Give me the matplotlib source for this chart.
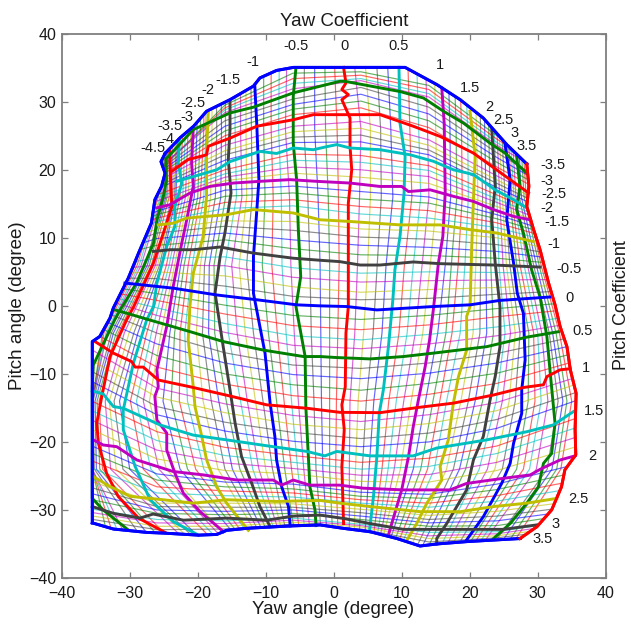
import numpy as np
import matplotlib
matplotlib.use("Agg")
import matplotlib.pyplot as plt
from matplotlib.patches import Polygon

plt.rcParams['font.family'] = ['Liberation Sans', 'DejaVu Sans']

W, H = 631, 624
TEXT = '#1a1a1a'
EDGE = '#7f7f7f'
COLORS = ['#0000ff', '#007f00', '#ff0000', '#00bfbf', '#bf00bf', '#bfbf00', '#404040']

# ==========================================
# Thick curves: (yaw, pitch)
# ==========================================
yaw_m45 = [(-24.8, 22.4), (-25.4, 21.2), (-24.8, 19.5), (-25.3, 17.6), (-26.3, 15.6), (-26.8, 12.2), (-28.7, 7.75),
           (-30.2, 4.1), (-32.4, -0.3), (-32.9, -1.8), (-34.4, -4.5), (-35.5, -5.25), (-35.5, -31.9)]
yaw_m40 = [(-24.7, 21.7), (-24.6, 18.5), (-25.05, 16.1), (-26, 12.65), (-26.5, 9.2), (-29, 3.35), (-31.4, -0.6),
           (-32.2, -2.05), (-35.35, -8.7), (-35.5, -12), (-35.5, -28.3), (-33.9, -30), (-30.2, -32.95)]
yaw_m35 = [(-24.1, 22.7), (-24, 19), (-23.8, 14.6), (-25.05, 10.7), (-26.5, 6.3), (-29.4, -0.1), (-30.45, -2.05),
           (-32.9, -7.45), (-34.1, -13.3), (-34.85, -17.25), (-34.6, -20.2), (-33.4, -24.6), (-31.7, -28),
           (-28.7, -31.2), (-24.8, -33.3)]
yaw_m30 = [(-22.7, 24.4), (-22.85, 21), (-22.35, 18), (-23.35, 14.6), (-23.35, 11.7), (-24.55, 8.75), (-26, 3.35),
           (-26.5, -0.1), (-27.5, -2.05), (-29.45, -8.4), (-30.95, -15.3), (-30.95, -18.2), (-29.2, -23.6),
           (-27, -28.5), (-23.6, -31.7), (-19.9, -33.7)]
yaw_m25 = [(-20.65, 26.1), (-20.9, 21), (-20.65, 17.6), (-21.6, 12.7), (-22.35, 9.2), (-23.6, 2.85), (-24.55, -3),
           (-26, -9.4), (-25.8, -11.9), (-26.3, -13.3), (-26, -16.8), (-24.55, -18.7), (-24.55, -21.2), (-23.35, -24.6),
           (-22.1, -27.55), (-19.65, -30.25), (-16.2, -33.2)]
yaw_m20 = [(-18.45, 28.35), (-18.7, 22.5), (-18.7, 16.1), (-19.2, 10.2), (-20.65, 4.8), (-21.15, -0.1), (-21.4, -5),
           (-20.65, -11.9), (-20.4, -14.8), (-19.4, -19.2), (-18.7, -22.6), (-17.2, -26.6), (-15.75, -29), (-12.55, -33)]
yaw_m15 = [(-15.25, 30.05), (-15.25, 25.9), (-15.5, 21.5), (-15.1, 16.6), (-16, 10.7), (-16.7, 7.25), (-17.45, 1.9),
           (-16.25, -6), (-15.25, -12.35), (-14.5, -17.25), (-13.55, -22.15), (-12.05, -26.1), (-10.85, -29.5),
           (-9.35, -32.45)]
yaw_m10 = [(-11.6, 32.3), (-11.3, 26.4), (-11, 18.55), (-11.3, 14.15), (-11.8, 7.25), (-11.8, 1.85), (-10.1, -6.95),
           (-9.35, -14.3), (-8.65, -19.2), (-8.4, -22.65), (-7.65, -26.6), (-6.65, -29.5), (-6.4, -32.35)]
yaw_m05 = [(-5.55, 35), (-5.95, 30.8), (-5.95, 23.9), (-5.45, 18.5), (-5.2, 11.2), (-4.85, 4.3), (-5.55, -0.1),
           (-4.2, -7.45), (-4.1, -14.8), (-3.75, -21.7), (-3.5, -26.6), (-2.75, -30), (-2.6, -32.3)]
yaw_00 = [(1.45, 35.05), (1.8, 32.75), (1.2, 31.8), (2.15, 31.05), (1.2, 30.3), (2.4, 27.6), (2.4, 23.45), (2.65, 20),
          (2.15, 15.1), (2.15, 7.25), (2.15, -0.1), (1.8, -4), (1.7, -11.9), (1.2, -14.55), (1.55, -18.2),
          (1.2, -23.6), (1.45, -32)]
yaw_05 = [(9.6, 35.05), (9.75, 26.85), (10.5, 21.95), (10.35, 16.6), (9.75, 10.2), (9, 5.3), (8.7, 0.9), (8.05, -6),
          (7.3, -12.35), (6.7, -15.8), (6.35, -22.15), (5.85, -28), (5.25, -33.2)]
yaw_10 = [(15.9, 32), (16.25, 26.85), (16.4, 16.6), (16.05, 10.2), (15.4, 6.3), (14.65, -0.6), (14.1, -5),
          (13.45, -8.95), (12.45, -13.85), (11.7, -17.75), (11, -22.15), (10, -27.05), (8.55, -31.95), (8.05, -33.7)]
yaw_15 = [(20.05, 28.6), (20.8, 22), (20.55, 15.6), (20.3, 8.75), (20.05, -0.1), (19.55, -1.55), (19.55, -6.5),
          (18.35, -10.4), (17.6, -14.3), (16.85, -19.7), (15.65, -23.6), (15.9, -25.6), (13.7, -29), (12.2, -32),
          (10.85, -34.3)]
yaw_20 = [(23.25, 25.9), (23.75, 17.6), (23.25, 12.65), (23.75, 6.3), (24.45, -0.1), (24.45, -6), (23.75, -10.4),
          (23, -13.8), (22, -19.2), (20.55, -22.65), (19.55, -27.05), (16.65, -31.95), (15.15, -34.2), (15.15, -35)]
yaw_25 = [(25.2, 23.7), (25.95, 18.55), (25.45, 12.65), (26.45, 6.3), (27, 1.85), (27.9, -1.1), (28.15, -7.95),
          (27.65, -12.35), (27.65, -15.8), (26.45, -20.2), (25.95, -23.15), (24.7, -26.1), (22, -31), (19.55, -34.4)]
yaw_30 = [(26.9, 22), (27.4, 17.6), (26.9, 14.15), (27.9, 10.7), (29.1, 5.3), (30.35, 1.3), (31.35, -4.5), (31.8, -9.4),
          (32.55, -17.25), (32.05, -21.7), (30.85, -23.15), (30.1, -26.6), (28.4, -29), (25.95, -32), (23.5, -34.2)]
yaw_35 = [(28.4, 20.85), (28.7, 17.6), (28.4, 14.6), (29.4, 11.2), (30.35, 8.25), (31.6, 3.35), (32.55, 0.15),
          (33.3, -3.05), (34.3, -6), (34.8, -9.4), (35.65, -12.85), (35.5, -18.2), (35.6, -21.9), (34, -24.1),
          (33.5, -26.6), (32.05, -30), (29.9, -32.45), (27.4, -34.2)]

pitch_m35 = [(-24.8, 22.4), (-22.6, 24.7), (-20.6, 26.4), (-18.7, 28.6), (-15.25, 30.3), (-11.8, 32.3), (-10.85, 33.5),
             (-8.4, 34.6), (-5.9, 35.05), (10.5, 35.05), (15.2, 32.5), (18.6, 30.3), (22, 27.6), (23.5, 25.9),
             (25.45, 23.7), (28.4, 20.85)]
pitch_m30 = [(-24.55, 21.7), (-20.65, 25.9), (-15.25, 28.35), (-11.8, 29.2), (-5.95, 31.3), (0.9, 33), (1.65, 33),
             (9.75, 31.5), (13.2, 30.55), (16.15, 28.6), (19.1, 26.85), (23, 23.9), (25.2, 22.45), (28.4, 19.5)]
pitch_m25 = [(-23.85, 19.75), (-21.4, 21.5), (-18.7, 22.2), (-18.45, 23.45), (-15.25, 24.65), (-11.3, 26.4),
             (-5.95, 27.35), (-3, 28.1), (0.9, 28.1), (6.8, 28.1), (11.7, 26.4), (15.65, 24.9), (20.55, 22.45),
             (23.25, 20.5), (25.95, 18.55), (28.65, 16.6)]
pitch_m20 = [(-23.1, 18.3), (-20.65, 19), (-17.2, 20), (-15.25, 21.2), (-10.85, 22.7), (-8.4, 22.4), (-5.95, 23.2),
             (-3, 22.95), (-1, 23.4), (0.45, 23.7), (2.4, 23.2), (6.8, 22.95), (11.25, 22.2), (14.65, 21.25),
             (17.6, 20), (20.55, 19.3), (23.75, 17.05), (26.45, 15.6), (28.4, 14.4)]
pitch_m15 = [(-26.05, 14.4), (-24.1, 14.85), (-21.1, 16.6), (-18.2, 17.55), (-14.75, 18.05), (-10.85, 18.3),
             (-6.45, 18.55), (-2.5, 18.3), (2.4, 18.05), (6.8, 17.55), (10, 17.55), (11, 16.8), (14.2, 17.05),
             (17.6, 16.1), (20.55, 15.35), (23.5, 14.15), (26.45, 13.15), (28.9, 12.65)]
pitch_m10 = [(-25.8, 11.9), (-23.6, 12.15), (-21.6, 12.9), (-15.75, 13.4), (-11.8, 14.15), (-5.95, 13.65), (-2, 12.65),
             (2.4, 12.4), (9.75, 11.9), (15.65, 11.9), (20.05, 11.2), (24, 10.7), (29.35, 9.45)]
pitch_m05 = [(-26.5, 8), (-24.05, 8.25), (-20.65, 8.25), (-16.7, 8.65), (-11.8, 7.75), (-5.95, 7), (-2, 6.7), (0.9, 6.5),
             (3.9, 6), (6.8, 6), (11.7, 6.45), (15.65, 6.2), (23.5, 6), (30.35, 5.7)]
pitch_00 = [(-30.7, 3.35), (-23.6, 2.6), (-17.2, 1.6), (-11.35, 0.9), (-5.45, 0.15), (-2, 0), (1.9, -0.1), (6.35, -0.6),
            (14.65, -0.1), (20.05, 0.15), (24.45, 0.8), (31.8, 1.3)]
pitch_05 = [(-32.15, -0.6), (-29.7, -1.3), (-27.5, -1.95), (-24.55, -2.8), (-21.1, -3.8), (-16.25, -5.25), (-10.35, -6.5),
            (-4.45, -7.45), (-2, -7.45), (0.45, -7.6), (5.35, -7.8), (10.25, -7.45), (14.65, -6.95), (22.5, -6),
            (28.4, -4.6), (33.05, -3.8)]
pitch_10 = [(-35.1, -5.25), (-32.4, -6.95), (-29.7, -8.2), (-29.2, -9), (-28, -9), (-25.8, -10.9), (-21.1, -11.9),
            (-15.25, -13.25), (-9.85, -14.55), (-3.95, -15.05), (0.9, -15.65), (6.8, -15.7), (12.7, -14.9), (17.6, -14.3),
            (23.5, -13.1), (27.9, -12), (30.85, -11.6), (31.35, -10.4), (33.3, -9.4), (34.75, -9.25)]
pitch_15 = [(-35.5, -12.5), (-33.9, -12.95), (-32.4, -14.8), (-30.95, -15.05), (-25.55, -17.5), (-20.65, -19),
            (-15.75, -19.7), (-8.9, -20.7), (-3.95, -21.4), (-1.3, -22.05), (0.45, -21.4), (5.35, -22.05), (11.7, -22.05),
            (15.15, -20.9), (22.5, -19.7), (28.4, -18.5), (32.3, -17.5), (35.25, -15.55)]
pitch_20 = [(-35.35, -19.7), (-33.9, -20.45), (-31.9, -20.7), (-28.95, -22.65), (-23.6, -24.35), (-19.15, -24.85),
            (-14.25, -25.6), (-8.9, -25.6), (-7.65, -26.35), (-5.95, -25.6), (-3.5, -26.35), (0.9, -26.35), (4.35, -26.8),
            (10.25, -27.05), (17.1, -27.05), (19.55, -26.1), (24.95, -25.35), (28.9, -24.85), (30.6, -23.9),
            (33.3, -22.65), (35.5, -22.05)]
pitch_25 = [(-35.35, -25.1), (-32.9, -26.55), (-29.95, -28), (-25.05, -28.5), (-20.65, -29), (-15.75, -28.5),
            (-8.4, -28.75), (-2, -28.6), (0.9, -29), (5.35, -29.5), (12.7, -30.25), (18.6, -30.25), (23.5, -29.5),
            (28.4, -29), (32.8, -28.3)]
pitch_30 = [(-35.5, -29.5), (-32.4, -30.5), (-28.5, -31.2), (-26.55, -30.6), (-22.1, -31.5), (-15.75, -31.2),
            (-9.85, -31.5), (-5.95, -30.9), (-2, -30.75), (1.45, -31.25), (5.35, -32), (10.25, -32.85), (17.6, -32.85),
            (24.95, -32.85), (29.85, -32.2)]
pitch_35 = [(-35.5, -31.9), (-32.4, -32.8), (-27.5, -33.3), (-25.05, -33.4), (-19.9, -33.7), (-17.2, -33.6), (-15.75, -33),
            (-12.8, -32.7), (-6.4, -32.35), (-2, -32.2), (1.4, -32.7), (5.35, -33.2), (9.3, -34.2), (12.7, -35.3),
            (15.15, -35), (19.6, -34.65), (27.4, -34.2)]

yaw_thick = [yaw_m45, yaw_m40, yaw_m35, yaw_m30, yaw_m25, yaw_m20, yaw_m15, yaw_m10, yaw_m05,
             yaw_00, yaw_05, yaw_10, yaw_15, yaw_20, yaw_25, yaw_30, yaw_35]
pitch_thick = [pitch_m35, pitch_m30, pitch_m25, pitch_m20, pitch_m15, pitch_m10, pitch_m05, pitch_00,
               pitch_05, pitch_10, pitch_15, pitch_20, pitch_25, pitch_30, pitch_35]

# ==========================================
# Thin curves: yaw angle at each pitch station, pitch angle at each yaw station
# Four thin lines per gap between two thick ones
# ==========================================
yaw_thin_pitch = [36, 26, 16, 6, -4, -14, -24, -35]
yaw_thin = [
    [-24.4, -24.9, -26, -29.2, -34, -35.5, -35.5, -33], [-24.3, -24.8, -25.8, -28.9, -33.8, -35.5, -35.5, -32],
    [-24.2, -24.7, -25.5, -28.6, -33.5, -35.5, -35.5, -31], [-24.1, -24.6, -25.3, -28.3, -33.3, -35.5, -35.5, -30],
    [-24, -24.5, -24.9, -27.7, -32.7, -35.4, -35.2, -27.6], [-24, -24.4, -24.7, -27.4, -32.4, -35.1, -34.9, -26.2],
    [-24, -24.3, -24.5, -27.1, -32, -34.8, -34.4, -24.8], [-24, -24.1, -24.2, -26.8, -31.7, -34.5, -34, -23.4],
    [-23.7, -23.7, -23.8, -26.2, -30.8, -33.6, -32.8, -21.2], [-23.4, -23.4, -23.6, -25.9, -30.1, -33, -32, -20.4],
    [-23.1, -23.1, -23.4, -25.6, -29.4, -32.3, -31, -19.6], [-22.8, -22.9, -23.2, -25.3, -28.8, -31.5, -30, -18.8],
    [-22.1, -22.2, -22.6, -24.6, -27.5, -29.9, -28, -17.2], [-21.7, -21.8, -22.2, -24.2, -26.8, -29, -26.9, -16.4],
    [-21.3, -21.4, -21.8, -23.8, -26.1, -28, -25.7, -15.6], [-21, -21, -21.4, -23.4, -25.4, -27.1, -24.6, -14.8],
    [-20.1, -20.1, -20.5, -22.5, -24.1, -25.1, -22.6, -13.4], [-19.6, -19.6, -20, -22, -23.4, -23.9, -21.5, -12.8],
    [-19.1, -19.1, -19.6, -21.4, -22.6, -22.7, -20.3, -12.2], [-18.8, -18.8, -19.1, -20.8, -21.9, -21.5, -19.1, -11.6],
    [-17.9, -17.9, -18.1, -19.6, -20.2, -19.2, -17, -10.5], [-17.3, -17.2, -17.4, -19, -19.3, -18, -16, -10],
    [-16.6, -16.5, -16.6, -18.3, -18.4, -16.9, -14.9, -9.5], [-16, -15.9, -15.9, -17.6, -17.5, -15.8, -13.8, -9],
    [-14.5, -14.5, -14.3, -16, -15.5, -13.7, -11.9, -8], [-13.7, -13.7, -13.5, -15, -14.2, -12.7, -11, -7.5],
    [-12.9, -12.9, -12.8, -13.9, -13, -11.5, -10, -7.1], [-12.2, -12.1, -12, -12.8, -11.8, -10.4, -9, -6.6],
    [-10.3, -10.3, -10.1, -10.5, -9.6, -8.4, -7.2, -5.5], [-9.2, -9.2, -8.9, -9.1, -8.3, -7.3, -6.2, -4.8],
    [-8, -8.1, -7.7, -7.6, -7, -6.2, -5.3, -4], [-6.9, -7.1, -6.5, -6.3, -5.8, -5.2, -4.4, -3.3],
    [-4.3, -4.4, -3.8, -3.5, -3.3, -2.9, -2.6, -1.7], [-2.8, -2.8, -2.3, -2, -1.9, -1.8, -1.6, -0.9],
    [-1.3, -1.2, -0.8, -0.6, -0.6, -0.6, -0.6, -0.1], [0.1, 0.5, 0.7, 0.8, 0.6, 0.4, 0.3, 0.7],
    [3, 4, 3.8, 3.5, 3.1, 2.4, 2.3, 2.3], [4.6, 5.4, 5.4, 5, 4.4, 3.6, 3.2, 3],
    [6.3, 6.9, 7, 6.4, 5.8, 4.8, 4.2, 3.7], [7.9, 8.4, 8.7, 7.7, 7.1, 5.9, 5.2, 4.5],
    [10.9, 11.2, 11.5, 10.4, 9.6, 8.1, 7.1, 5.7], [12.2, 12.5, 12.8, 11.7, 10.8, 9.2, 8, 6.2],
    [13.5, 13.8, 14, 13, 12, 10.3, 8.9, 6.6], [14.8, 15, 15.2, 14.2, 13.1, 11.4, 9.8, 7],
    [16.8, 17.1, 17.2, 16.4, 15.3, 13.5, 11.7, 8.1], [17.7, 18, 18.1, 17.3, 16.5, 14.6, 12.8, 8.8],
    [18.5, 18.8, 18.9, 18.3, 17.4, 15.6, 13.8, 9.4], [19.3, 19.7, 19.8, 19.3, 18.6, 16.6, 14.8, 10],
    [20.7, 21, 21.2, 20.9, 20.5, 18.7, 16.6, 11.5], [21.4, 21.6, 21.9, 21.6, 21.5, 19.8, 17.6, 12.4],
    [22, 22.2, 22.4, 22.4, 22.5, 20.8, 18.5, 13.2], [22.6, 22.8, 23, 23.1, 23.5, 21.9, 19.4, 14.1],
    [23.6, 23.6, 24, 24.3, 25.2, 23.9, 21.4, 15.9], [24, 24, 24.4, 24.9, 26, 24.8, 22.6, 16.7],
    [24.3, 24.3, 24.8, 25.4, 26.7, 25.8, 23.7, 17.5], [24.7, 24.7, 25.2, 25.9, 27.4, 26.7, 24.8, 18.4],
    [25.3, 25.3, 25.9, 26.9, 28.7, 28.6, 26.9, 19.9], [25.6, 25.6, 26.2, 27.4, 29.4, 29.6, 27.9, 20.6],
    [25.9, 25.9, 26.5, 28, 30, 30.5, 28.8, 21.3], [26.2, 26.2, 26.8, 28.5, 30.6, 31.5, 29.8, 21.9],
    [26.8, 26.8, 27.3, 29.4, 31.7, 33, 31.4, 23.5], [27.1, 27.1, 27.6, 29.8, 32.2, 33.7, 32.1, 24.5],
    [27.4, 27.4, 28, 30.2, 32.7, 34.3, 32.8, 25.5], [27.7, 27.7, 28.3, 30.5, 33.2, 35, 33.4, 26.3],
]

pitch_thin_yaw = [-36, -26, -16, -6, 4, 14, 24, 36]
pitch_thin = [
    [17, 19.5, 29.5, 34.2, 34.4, 32.4, 25, 17.6], [16, 19.7, 29.1, 33.4, 33.9, 31.8, 24.5, 17.2],
    [15, 19.8, 28.8, 32.7, 33.4, 31.2, 24, 16.8], [14.5, 20, 28.4, 31.9, 33.1, 30.7, 23.6, 16.4],
    [13.8, 19.7, 27.2, 30.4, 32.1, 29.2, 22.5, 15.4], [13.6, 19.4, 26.4, 29.6, 31.1, 28.2, 21.8, 14.9],
    [13.4, 19.1, 25.7, 28.9, 30.1, 27.2, 21.1, 14.4], [13.2, 18.8, 25, 28.1, 29.1, 26.2, 20.4, 13.9],
    [12.8, 18.2, 23.6, 26.4, 27.1, 24.4, 19.1, 13], [12.6, 17.9, 22.8, 25.6, 26.1, 23.6, 18.5, 12.6],
    [12.4, 17.5, 22.2, 24.8, 25.1, 22.9, 18, 12.2], [12.2, 17.2, 21.4, 24, 24.1, 22.2, 17.4, 11.8],
    [11.6, 16.3, 20, 22.3, 22.1, 20.6, 16.3, 11.1], [11.2, 15.9, 19.4, 21.4, 21.1, 19.9, 15.7, 10.8],
    [10.8, 15.4, 18.9, 20.4, 20, 19, 15.2, 10.5], [10.4, 14.9, 18.4, 19.5, 18.9, 18, 14.6, 10.2],
    [9.6, 13.9, 17, 17.6, 16.8, 16, 13.4, 9.6], [9.2, 13.4, 16.1, 16.6, 15.7, 15.1, 12.8, 9.2],
    [8.8, 12.9, 15.2, 15.6, 14.6, 14, 12.2, 8.8], [8.4, 12.4, 14.3, 14.7, 13.5, 12.9, 11.5, 8.4],
    [7.6, 11.3, 12.5, 12.4, 11.3, 11, 10, 7.5], [7.2, 10.7, 11.7, 11.1, 10.1, 9.8, 9, 7],
    [6.8, 9.9, 10.7, 9.7, 8.9, 8.6, 8, 6.5], [6.4, 8.9, 9.7, 8.4, 7.5, 7.4, 7, 5.9],
    [5.5, 7, 7.2, 5.6, 4.8, 5, 4.9, 4.7], [5, 6, 5.9, 4.2, 3.5, 3.7, 3.8, 3.9],
    [4.6, 5, 4.4, 2.8, 2, 2.4, 2.7, 3.1], [4.2, 4, 2.9, 1.4, 0.9, 1.1, 1.7, 2.3],
    [3.2, 1.8, 0.1, -1.4, -2, -1.4, -0.4, 0.6], [2.6, 0.8, -1.2, -2.9, -3.5, -2.8, -1.6, -0.4],
    [2.1, -0.3, -2.6, -4.4, -5, -4.2, -3.1, -1.4], [1.6, -1.4, -3.9, -5.8, -6.3, -5.6, -4.4, -2.4],
    [0, -4, -6.9, -8.7, -9.2, -8.4, -7, -4.4], [-1.2, -5.6, -8.4, -10.1, -10.7, -9.9, -8.4, -5.6],
    [-2.4, -7.3, -10, -11.6, -12.4, -11.4, -9.9, -6.8], [-3.6, -9, -11.5, -13.2, -14, -13, -11.4, -8],
    [-6.2, -12.1, -14.4, -16.1, -17, -16, -14.2, -10.4], [-7.8, -13.4, -15.7, -17.4, -18.2, -17.3, -15.4, -11.4],
    [-9.4, -14.8, -17.1, -18.6, -19.5, -18.7, -16.7, -12.6], [-10.9, -16, -18.4, -19.9, -20.7, -20, -18, -13.8],
    [-13.8, -18.5, -20.8, -22, -23, -22.4, -20.6, -16.4], [-15.2, -19.8, -22, -23, -24, -23.6, -21.7, -17.8],
    [-16.6, -21.2, -23.1, -23.9, -24.9, -24.8, -23, -19.2], [-18, -22.5, -24.2, -24.7, -25.8, -25.9, -24.2, -20.6],
    [-20.4, -24.7, -25.9, -26.2, -27.4, -27.7, -26.2, -23.2], [-21.5, -25.6, -26.6, -26.9, -28, -28.3, -27, -24.4],
    [-22.6, -26.6, -27.2, -27.5, -28.5, -29, -27.9, -25.6], [-23.7, -27.5, -27.9, -28.1, -29, -29.6, -28.7, -26.7],
    [-25.7, -29, -29, -29.1, -29.9, -30.8, -30.2, -28.6], [-26.6, -29.5, -29.6, -29.6, -30.4, -31.4, -30.9, -29.4],
    [-27.5, -30, -30.2, -30, -30.9, -31.9, -31.6, -30], [-28.4, -30.5, -30.7, -30.5, -31.4, -32.4, -32.3, -30.5],
    [-29.8, -31.4, -31.6, -31.2, -32.1, -33.3, -33.2, -31.4], [-30.3, -31.9, -32, -31.5, -32.3, -33.8, -33.5, -31.8],
    [-30.8, -32.4, -32.4, -31.8, -32.5, -34.2, -33.8, -32.2], [-31.3, -32.9, -32.8, -32.1, -32.8, -34.7, -34.1, -32.6],
]

# Curve labels and tick labels
yaw_labels = ['-4.5', '-4', '-3.5', '-3', '-2.5', '-2', '-1.5', '-1', '-0.5', '0', '0.5', '1', '1.5', '2', '2.5', '3', '3.5']
pitch_labels = ['-3.5', '-3', '-2.5', '-2', '-1.5', '-1', '-0.5', '0', '0.5', '1', '1.5', '2', '2.5', '3', '3.5']
tick_values = [-40, -30, -20, -10, 0, 10, 20, 30, 40]

yaw_label_px = [(153, 148), (168, 139), (170, 126), (187, 117), (193, 103), (208, 90), (228, 80), (253, 62), (296, 46),
                (344, 46), (399, 46), (440, 65), (470, 88), (489, 107), (503, 120), (515, 133), (527, 146)]
pitch_label_px = [(553, 165), (547, 181), (554, 194), (547, 208), (557, 222), (554, 244), (569, 269), (569, 298),
                  (583, 331), (586, 368), (594, 411), (592, 456), (578, 499), (556, 524), (543, 539)]


def thin_color(i):
    return COLORS[i % 7]


fig = plt.figure(figsize=(W / 100, H / 100), dpi=100)
ax = fig.add_axes([61.7 / W, 1 - 578 / H, 544 / W, 544.3 / H])

# Outline of the mesh, the thin lines are cut off at it
outline = pitch_m35 + yaw_35[1:] + pitch_35[::-1][1:] + yaw_m45[::-1][1:]
clip = Polygon(outline, closed=True, transform=ax.transData, fc='none', ec='none')
ax.add_patch(clip)

thin_index = [i for i in range(1, 80) if i % 5 != 0]
for i, row in zip(thin_index, yaw_thin):
    line, = ax.plot(row, yaw_thin_pitch, color=thin_color(i), lw=0.85, alpha=0.6, zorder=2)
    line.set_clip_path(clip)

thin_index = [i for i in range(1, 70) if i % 5 != 0]
for i, row in zip(thin_index, pitch_thin):
    line, = ax.plot(pitch_thin_yaw, row, color=thin_color(i), lw=0.85, alpha=0.6, zorder=2)
    line.set_clip_path(clip)

# Thick curves on top: colors run b g r c m y k from the first curve on
for n, curve in enumerate(yaw_thick):
    xs, ys = zip(*curve)
    ax.plot(xs, ys, color=COLORS[n % 7], lw=2.1, zorder=3, solid_joinstyle='round')
for n, curve in enumerate(pitch_thick):
    xs, ys = zip(*curve)
    ax.plot(xs, ys, color=COLORS[n % 7], lw=2.1, zorder=3, solid_joinstyle='round')
# blue border goes over the rest, red one on the right too
for curve, c in [(pitch_m35, COLORS[0]), (pitch_35, COLORS[0]), (yaw_m45, COLORS[0]), (yaw_35, COLORS[2])]:
    xs, ys = zip(*curve)
    ax.plot(xs, ys, color=c, lw=2.1, zorder=4)

ax.set_xlim(-40, 40)
ax.set_ylim(-40, 40)
ax.set_xticks(tick_values)
ax.set_yticks(tick_values)
ax.tick_params(direction='in', length=4, width=0.9, color=EDGE, labelcolor=TEXT, labelsize=11.5,
               top=True, right=True)
ax.tick_params(axis='x', pad=5.5)
ax.tick_params(axis='y', pad=4)
for spine in ax.spines.values():
    spine.set_color(EDGE)
    spine.set_linewidth(1.3)

for label, (px, py) in zip(yaw_labels, yaw_label_px):
    fig.text(px / W, 1 - py / H, label, fontsize=10.5, color=TEXT, ha='center', va='center')
for label, (px, py) in zip(pitch_labels, pitch_label_px):
    fig.text(px / W, 1 - py / H, label, fontsize=10.5, color=TEXT, ha='center', va='center')

fig.text(344 / W, 1 - 21 / H, 'Yaw Coefficient', fontsize=13.5, color=TEXT, ha='center', va='center')
fig.text(333 / W, 1 - 610 / H, 'Yaw angle (degree)', fontsize=13.5, color=TEXT, ha='center', va='center')
fig.text(18 / W, 1 - 306 / H, 'Pitch angle (degree)', fontsize=13.5, color=TEXT, ha='center', va='center', rotation=90)
fig.text(622 / W, 1 - 305 / H, 'Pitch Coefficient', fontsize=13, color=TEXT, ha='center', va='center', rotation=90)

fig.savefig('out.png', dpi=100)
